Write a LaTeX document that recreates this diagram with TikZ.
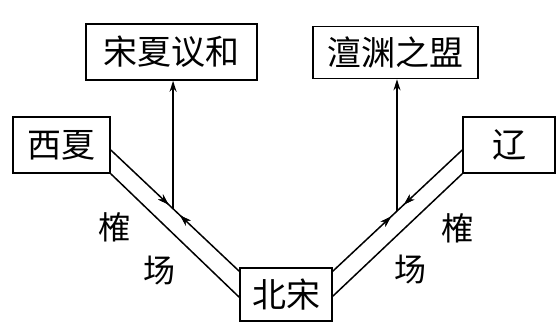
\documentclass[tikz,border=0pt]{standalone}
\usepackage{fontspec}
\newfontfamily\cjk{Noto Sans CJK SC}
\usetikzlibrary{arrows.meta,calc,decorations.markings}
\begin{document}
\begin{tikzpicture}[x=1pt,y=-1pt,
  box/.style={draw,line width=1.6pt,inner sep=0pt,font=\cjk\fontsize{34}{40}\selectfont},
  lbl/.style={inner sep=0pt,font=\cjk\fontsize{32}{38}\selectfont},
  ln/.style={line width=1.5pt},
  tip/.style={-{Stealth[length=11pt,width=7pt]},line width=1.5pt},
  meet/.style={postaction={decorate},decoration={markings,
     mark=at position #1 with {\arrow{Stealth[length=11pt,width=7pt]}}}},
  back/.style={postaction={decorate},decoration={markings,
     mark=at position #1 with {\arrowreversed{Stealth[length=11pt,width=7pt]}}}}
]
\useasboundingbox (0,0) rectangle (560,335);
\node[box,minimum width=171pt,minimum height=56pt] (hy) at (171.5,52) {宋夏议和};
\node[box,minimum width=165pt,minimum height=52pt] (cy) at (395.5,52.5) {澶渊之盟};
\node[box,minimum width=97pt,minimum height=56pt] (xx) at (61.5,145) {西夏};
\node[box,minimum width=92pt,minimum height=56pt] (liao) at (509,145) {辽};
\node[box,minimum width=92pt,minimum height=53pt] (bs) at (286,294.5) {北宋};
% left
\coordinate (xa) at ($(xx.east)+(0,5)$);
\coordinate (ba) at ($(bs.north west)+(0,4)$);
\coordinate (bb) at ($(bs.north west)+(0,30)$);
\draw[ln,meet=0.45,back=0.54] (xa) -- (ba);
\draw[ln] (xx.south east) -- (bb);
\coordinate (mL) at ($(xa)!0.485!(ba)$);
\draw[tip] (mL) -- (mL |- hy.south);
% right
\coordinate (la) at ($(liao.west)+(0,5)$);
\coordinate (bc) at ($(bs.north east)+(0,4)$);
\coordinate (bd) at ($(bs.north east)+(0,29)$);
\draw[ln,meet=0.45,back=0.55] (la) -- (bc);
\draw[ln] (liao.south west) -- (bd);
\coordinate (mR) at ($(la)!0.504!(bc)$);
\draw[tip] (mR) -- (mR |- cy.south);
% labels
\node[lbl] (q1) at (114,227) {榷};
\node[lbl] (c1) at (159,271) {场};
\node[lbl] (q2) at (457,228) {榷};
\node[lbl] (c2) at (410,270) {场};
\end{tikzpicture}
\end{document}
